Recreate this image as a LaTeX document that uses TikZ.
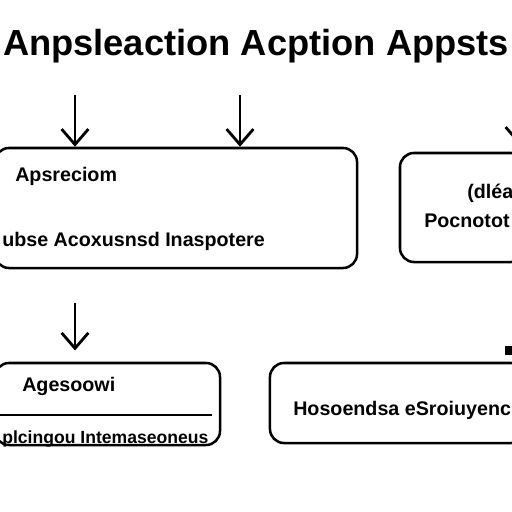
\documentclass[tikz,border=0pt]{standalone}
\usepackage{fontspec}
\setmainfont{Liberation Sans}
\usetikzlibrary{arrows.meta}
\begin{document}
\begin{tikzpicture}[
	x=0.025cm, y=-0.025cm,
	box/.style={draw, line width=1.8pt, rounded corners=10pt, inner sep=0pt},
	txt/.style={anchor=west, inner sep=0pt, font=\bfseries\fontsize{14}{16}\selectfont},
	down/.style={-{Straight Barb[length=11pt, width=19pt]}, line width=2pt}
	]
	\useasboundingbox (0,0) rectangle (512,512);
	\node[font=\bfseries\fontsize{25.8}{30}\selectfont] (title) at (256,46) {Anpsleaction Acption Appsts};
	% boxes
	\node[box, minimum width=9.05cm, minimum height=3cm] (apsreciom) at (176,208) {};
	\node[box, minimum width=3.125cm, minimum height=2.725cm] (pocnototum) at (462.5,207.5) {};
	\node[box, minimum width=5.625cm, minimum height=2.05cm] (agesoowi) at (107.5,404) {};
	\node[box, minimum width=6.375cm, minimum height=2cm] (hosoendsa) at (397.5,403) {};
	% texts
	\node[txt] (t1) at (15,176) {Apsreciom};
	\node[txt] (t2) at (2,241) {ubse Acoxusnsd Inaspotere};
	\node[txt] (t3) at (467,193) {(dléa};
	\node[txt] (t4) at (424,221) {Pocnotot};
	\node[txt] (t5) at (22,386) {Agesoowi};
	\node[txt, font=\bfseries\fontsize{12.5}{15}\selectfont] (t6) at (2,439) {plcingou Intemaseoneus};
	\node[txt] (t7) at (293,410) {Hosoendsa eSroiuyenc};
	% arrows
	\coordinate (s1) at (75,95);
	\coordinate (s2) at (240,95);
	\coordinate (s3) at (75,303);
	\coordinate (s4) at (519,100);
	\draw[down] (s1) -- (s1 |- apsreciom.north);
	\draw[down] (s2) -- (s2 |- apsreciom.north);
	\draw[down, shorten >=8pt] (s3) -- (s3 |- agesoowi.north);
	\draw[down, shorten >=5pt] (s4) -- (s4 |- pocnototum.north);
	% divider and stub
	\coordinate (d1) at (0,415);
	\coordinate (d2) at (212,415);
	\draw[line width=1.8pt] (d1) -- (d2);
	\coordinate (m1) at (505,350.5);
	\coordinate (m2) at (522,350.5);
	\draw[line width=6pt] (m1) -- (m2);
\end{tikzpicture}
\end{document}
